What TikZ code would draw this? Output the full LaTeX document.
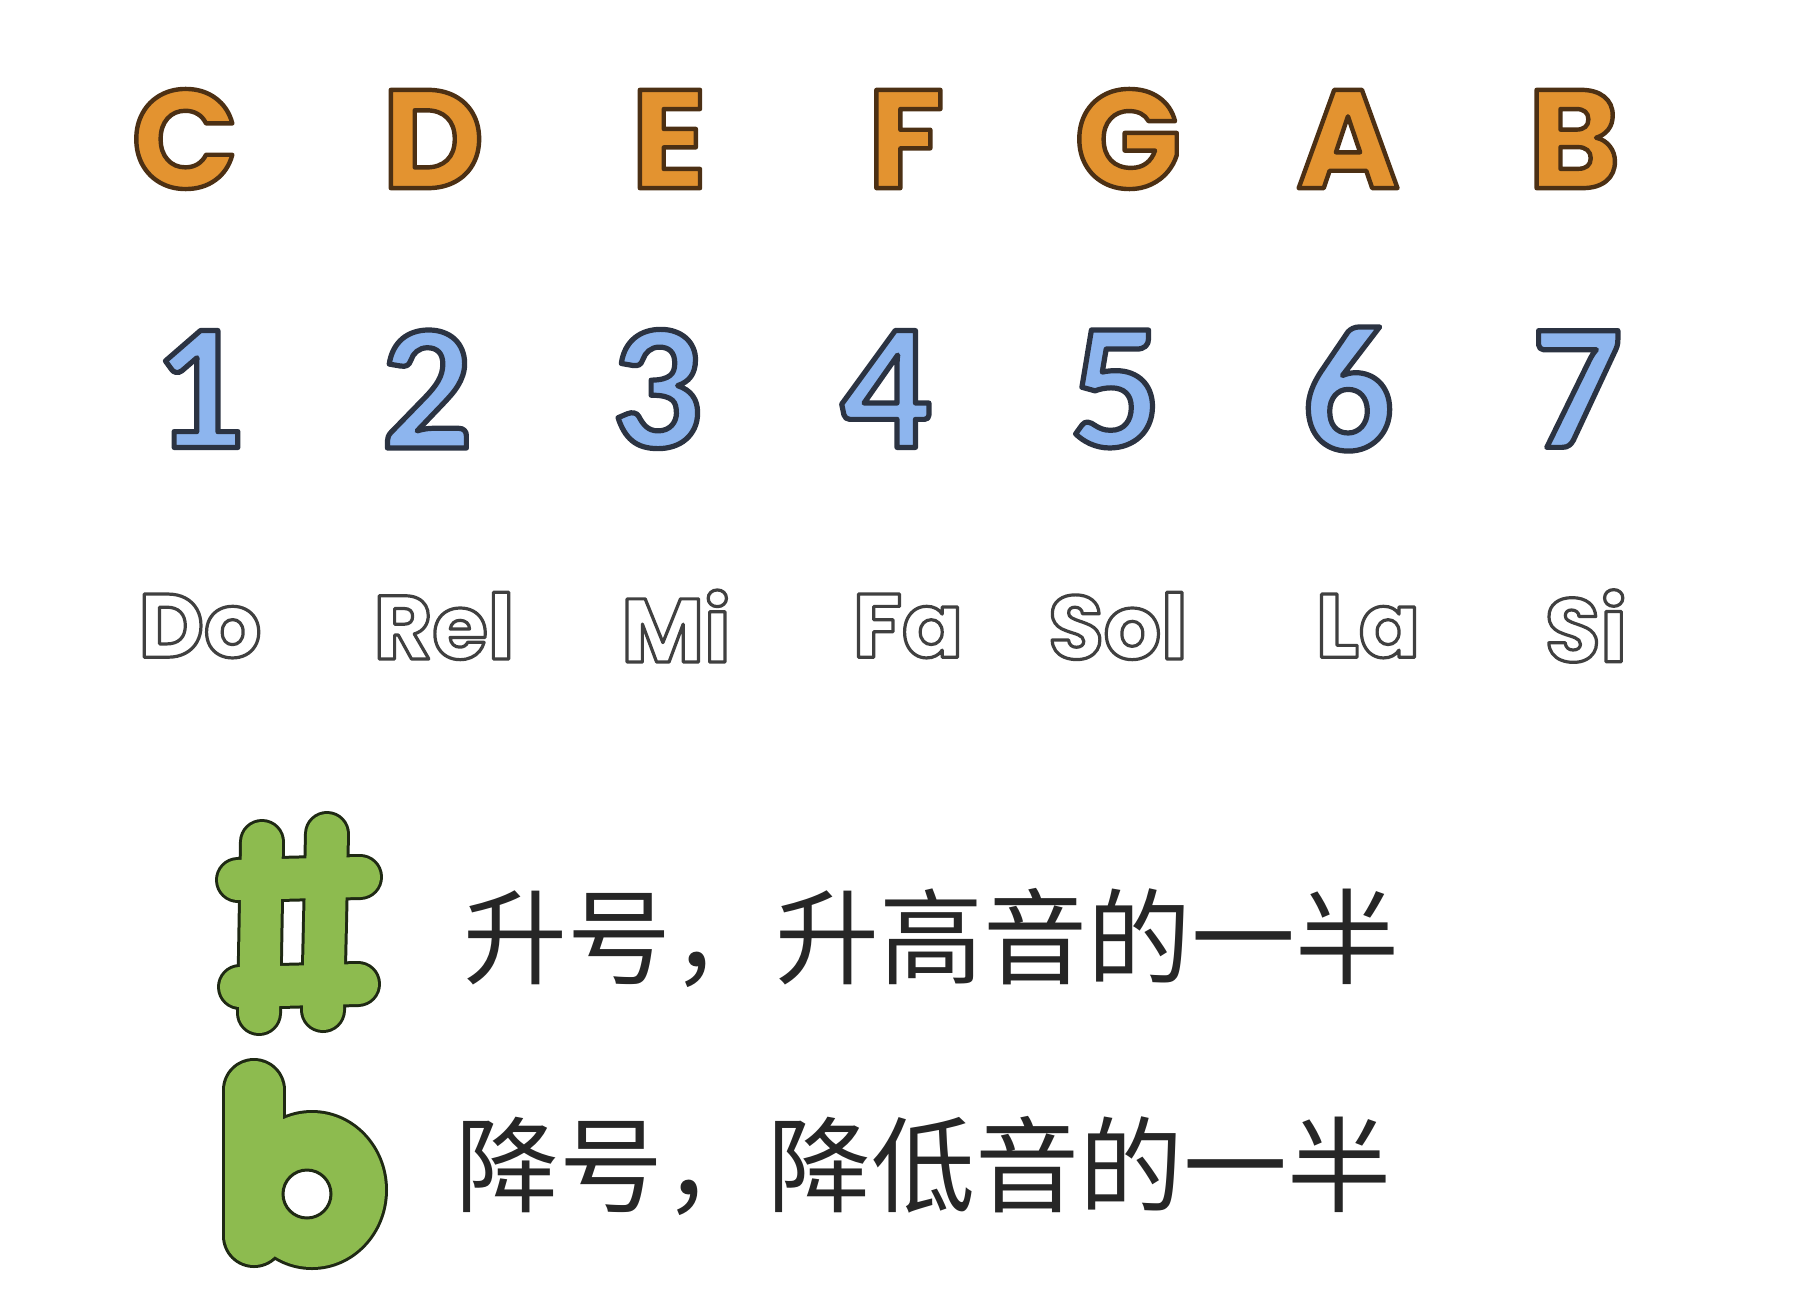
\documentclass[tikz,border=0pt]{standalone}
\usepackage{fontspec}
\setmainfont{Poppins}
\newfontfamily\numfont{Carlito}
\newfontfamily\cjkfont{Noto Sans CJK SC}

\definecolor{noteorange}{HTML}{E39330}
\definecolor{noteblue}{HTML}{8DB5EE}
\definecolor{notegreen}{HTML}{8DBB4F}
\definecolor{greenline}{HTML}{1F2914}
\definecolor{cjkgray}{HTML}{262626}

% outlined glyphs: fill, then stroke (rgb stroke colour, width in bp)
\newcommand\outlined[3]{\special{pdf:literal direct 2 Tr 1 j #2 w #1 RG}#3\special{pdf:literal direct 0 Tr}}
\newcommand\lettertext[1]{\outlined{0.30 0.19 0.08}{2.2}{#1}}
\newcommand\numtext[1]{\outlined{0.17 0.20 0.26}{2.6}{#1}}
\newcommand\solfatext[1]{\outlined{0.25 0.25 0.25}{1.6}{#1}}

\tikzset{
  letter/.style={inner sep=0pt, text=noteorange, font=\fontsize{70}{70}\selectfont\bfseries},
  number/.style={inner sep=0pt, text=noteblue, font=\numfont\fontsize{90}{90}\selectfont\bfseries},
  solfa/.style={inner sep=0pt, text=white, font=\fontsize{45}{45}\selectfont\bfseries},
  cjktxt/.style={inner sep=0pt, anchor=west, text=cjkgray, font=\cjkfont\fontsize{52}{52}\selectfont},
}

\begin{document}
\begin{tikzpicture}[x=0.5pt,y=-0.5pt]
\useasboundingbox (0,0) rectangle (1814,1300);

% Letter names
\foreach \name/\x [count=\i] in {C/185, D/433, E/669, F/906, G/1128, A/1348, B/1574}
  \node[letter] (l\i) at (\x,139) {\lettertext{\name}};

% Numbered notation
\foreach \x [count=\i] in {199, 427, 657, 886, 1116, 1348, 1577}
  \node[number] (n\i) at (\x,389) {\numtext{\i}};

% Solfege
\foreach \name/\x [count=\i] in {Do/200, Rel/444, Mi/676, Fa/908, Sol/1118, La/1368, Si/1586}
  \node[solfa] (s\i) at (\x,626) {\solfatext{\name}};

% Sharp sign
\foreach \c/\w in {greenline/23pt, notegreen/20pt}
  \draw[\c, line width=\w, line cap=round]
    (262,842) -- (259,1013) (327,834) -- (323,1010)
    (238,880) -- (360,877) (240,987) -- (358,984);
\node[cjktxt] (sharptxt) at (463,938) {升号，升高音的一半};

% Flat sign
\draw[greenline, line width=32pt, line cap=round] (254,1090) -- (254,1236);
\fill[greenline] (312,1190) ellipse [x radius=38pt, y radius=40pt];
\draw[notegreen, line width=29pt, line cap=round] (254,1090) -- (254,1236);
\fill[notegreen] (312,1190) ellipse [x radius=36.5pt, y radius=38.5pt];
\filldraw[fill=white, draw=greenline, line width=1.5pt] (307,1194) circle [radius=12pt];
\node[cjktxt] (flattxt) at (455,1166) {降号，降低音的一半};

\end{tikzpicture}
\end{document}
